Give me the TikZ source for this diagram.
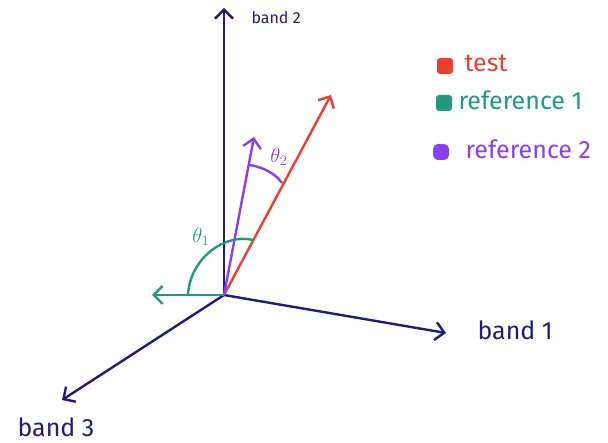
\documentclass[tikz,border=0pt]{standalone}
\usepackage{fontspec}
\setmainfont{Fira Sans}
\usetikzlibrary{arrows.meta}
\definecolor{axisblue}{HTML}{1E1A7E}
\definecolor{testred}{HTML}{E8402E}
\definecolor{refteal}{HTML}{1E9A80}
\definecolor{refpurple}{HTML}{8B3DF2}
\tikzset{
  vec/.style={line width=2.4pt, -{Straight Barb[length=9pt,width=18pt,line width=2.4pt]}},
  axis/.style={vec, draw=axisblue},
  legbox/.style={minimum size=16pt, inner sep=0pt, rounded corners=3pt},
}
\begin{document}
\begin{tikzpicture}[x=1pt, y=1pt, every node/.style={font=\fontsize{25}{28}\selectfont}]
  \useasboundingbox (0,0) rectangle (608,443);
  \coordinate (O) at (224,148);
  \coordinate (B1) at (446,110); \coordinate (B2) at (224,435);
  \coordinate (B3) at (62,43);
  \coordinate (T) at (331,348); \coordinate (R1) at (152,148);
  \coordinate (R2) at (254,306);
  \draw[axis] (O)--(B1); \draw[axis] (O)--(B2); \draw[axis] (O)--(B3);
  \draw[vec, draw=testred] (O)--(T);
  \draw[vec, draw=refpurple] (O)--(R2);
  \draw[vec, draw=refteal] (O)--(R1);
  % angle arcs
  \draw[refteal, line width=2.4pt] (188,148) .. controls (190,185) and (225,210) .. (253,203);
  \draw[refpurple, line width=2.4pt] (250,278) .. controls (262,276) and (275,270) .. (282,260);
  \node[text=refteal, font=\fontsize{21}{24}\selectfont] (th1) at (201,206) {$\theta_1$};
  \node[text=refpurple, font=\fontsize{21}{24}\selectfont] (th2) at (279,286) {$\theta_2$};
  % axis labels
  \node[anchor=west, text=axisblue, font=\fontsize{16}{18}\selectfont] (l2) at (248,425) {band 2};
  \node[anchor=west, text=axisblue] (l1) at (474,113) {band 1};
  \node[text=axisblue] (l3) at (56,16) {band 3};
  % legend
  \node[legbox, fill=testred] (k1) at (445,377) {};
  \node[anchor=west, text=testred] (k1t) at (461,380) {test};
  \node[legbox, fill=refteal] (k2) at (444,340) {};
  \node[anchor=west, text=refteal] (k2t) at (455,343) {reference 1};
  \node[legbox, fill=refpurple, rounded corners=5pt] (k3) at (441,291) {};
  \node[anchor=west, text=refpurple] (k3t) at (462,294) {reference 2};
\end{tikzpicture}
\end{document}
